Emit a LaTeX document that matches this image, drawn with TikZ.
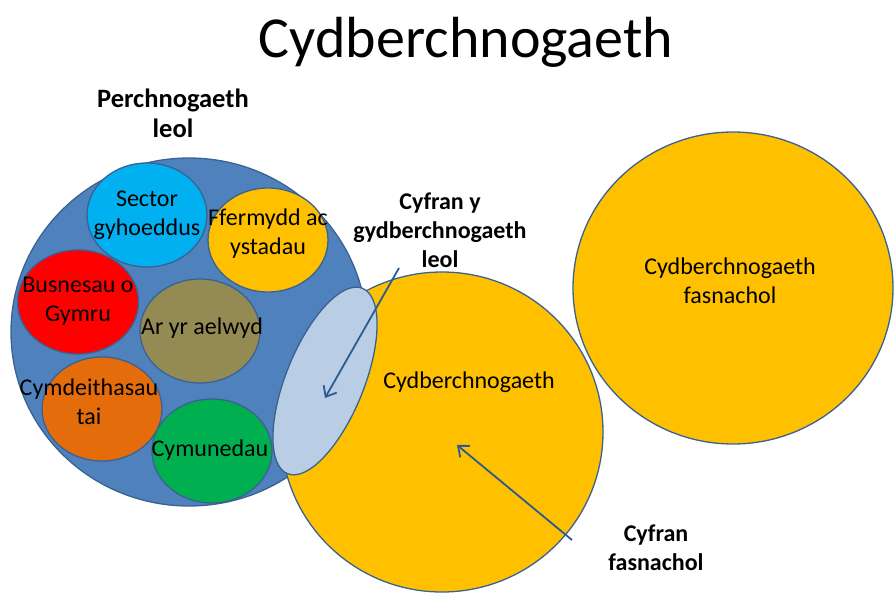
\documentclass[tikz,border=0pt]{standalone}
\usepackage{fontspec}
\setmainfont{Carlito}
\usetikzlibrary{shapes.geometric,arrows.meta}
\definecolor{bluemain}{HTML}{4F81BD}
\definecolor{edgec}{HTML}{3A6291}
\definecolor{sectorc}{HTML}{00B0F0}
\definecolor{yellowc}{HTML}{FFC000}
\definecolor{redc}{HTML}{FF0000}
\definecolor{olivec}{HTML}{948A54}
\definecolor{orangec}{HTML}{E46C0A}
\definecolor{greenc}{HTML}{00B050}
\definecolor{lightbluec}{HTML}{B9CDE5}
\definecolor{arrowc}{HTML}{2B5B93}
\begin{document}
\begin{tikzpicture}[x=1pt,y=-1pt,
  blob/.style={ellipse, draw=edgec, line width=1.3pt, inner sep=0pt},
  txt/.style={align=center, inner sep=0pt, font=\fontsize{24}{29}\selectfont},
  lbl/.style={align=center, inner sep=0pt, font=\bfseries\fontsize{24}{29}\selectfont},
  pointer/.style={draw=arrowc, line width=1.8pt, -{Straight Barb[length=9pt,width=15pt]}}]
\useasboundingbox (0,0) rectangle (894,594);
% title
\node[inner sep=0pt, font=\fontsize{58}{69}\selectfont] (title) at (466,42) {Cydberchnogaeth};
% local ownership
\node[blob, fill=bluemain, minimum width=356pt, minimum height=348pt] (local) at (189,332) {};
\node[blob, fill=sectorc, minimum width=120pt, minimum height=104pt] (sector) at (147,215) {};
\node[blob, fill=yellowc, minimum width=120pt, minimum height=104pt] (ffermydd) at (268,240) {};
\node[blob, fill=redc, minimum width=121pt, minimum height=104pt] (busnes) at (78,302) {};
\node[blob, fill=olivec, minimum width=120pt, minimum height=104pt] (aelwyd) at (200,331) {};
\node[blob, fill=orangec, minimum width=120pt, minimum height=104pt] (tai) at (102,409) {};
\node[blob, fill=greenc, minimum width=120pt, minimum height=104pt] (cymuned) at (212,451) {};
\node[txt] (sectort) at (147,215) {Sector\\gyhoeddus};
\node[txt] (ffermyddt) at (268,234) {Ffermydd ac\\ystadau};
\node[txt] (busnest) at (78,301) {Busnesau o\\Gymru};
\node[txt] (aelwydt) at (202,328) {Ar yr aelwyd};
\node[txt] (tait) at (89,402) {Cymdeithasau\\tai};
\node[txt] (cymunedt) at (210,450) {Cymunedau};
% co-ownership circles
\node[blob, fill=yellowc, minimum width=322pt, minimum height=320pt] (cyd) at (442,432) {};
\node[blob, fill=yellowc, minimum width=320pt, minimum height=312pt] (fasn) at (733,288) {};
\node[blob, fill=lightbluec, minimum width=200pt, minimum height=78pt, rotate=68] (share) at (325,381) {};
\node[txt] (cydt) at (469,382) {Cydberchnogaeth};
\node[txt] (fasnt) at (730,281) {Cydberchnogaeth\\fasnachol};
% labels
\node[lbl, font=\bfseries\fontsize{26.5}{30}\selectfont] (perch) at (173,113) {Perchnogaeth\\leol};
\node[lbl] (cyfranleol) at (440,230) {Cyfran y\\gydberchnogaeth\\leol};
\node[lbl] (cyfranfasn) at (656,548) {Cyfran\\fasnachol};
% pointers
\coordinate (p1s) at (399,268);
\coordinate (p1e) at (325,398);
\coordinate (p2s) at (572,540);
\coordinate (p2e) at (457,445);
\draw[pointer] (p1s) -- (p1e);
\draw[pointer] (p2s) -- (p2e);
\end{tikzpicture}
\end{document}
